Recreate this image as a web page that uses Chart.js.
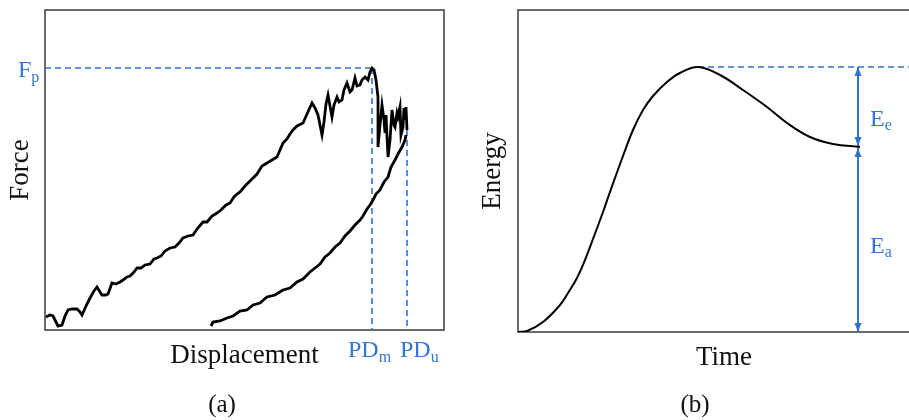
<!DOCTYPE html>
<html>
<head>
<meta charset="utf-8">
<script src="https://cdn.jsdelivr.net/npm/chart.js@4.4.1/dist/chart.umd.min.js"></script>
<style>
    html, body { margin: 0; padding: 0; background: #fff; }
    body { width: 909px; height: 420px; overflow: hidden; position: relative; }
    .panel { position: absolute; top: 0; }
    #panel-a { left: 0; }
    #panel-b { left: 460px; }
</style>
</head>
<body>
<div class="panel" id="panel-a"><canvas id="force-chart" width="460" height="420"></canvas></div>
<div class="panel" id="panel-b"><canvas id="energy-chart" width="500" height="420"></canvas></div>
<script>
// (a) loading branch: displacement / force
const loadDisp = [1, 5, 8, 11, 13, 17, 20, 23, 27, 32, 35, 37, 41, 45, 49, 52, 55, 57, 61, 63,
    67, 71, 75, 78, 82, 85, 89, 92, 96, 100, 105, 109, 112, 116, 120, 125, 130, 134, 138, 143,
    148, 152, 158, 162, 167, 172, 176, 181, 185, 189, 192, 195, 200, 204, 208, 212, 217, 222, 227, 232,
    235, 238, 242, 245, 248, 252, 258, 262, 267, 270, 273, 277, 279, 281, 283, 285, 287, 289, 292, 294,
    297, 299, 302, 305, 307, 310, 312, 315, 317, 320, 323, 325, 327, 329, 331, 333, 333, 335, 337, 339,
    340, 341, 343, 345, 347, 349, 350, 352, 353, 355, 356, 358, 359, 360, 361, 362];
const loadForce = [13, 15, 14, 8, 4, 5, 14, 20, 21, 21, 18, 15, 24, 32, 39, 43, 38, 35, 35, 36,
    47, 46, 48, 50, 53, 54, 58, 62, 62, 65, 66, 71, 72, 74, 79, 82, 83, 87, 92, 94,
    95, 101, 108, 108, 114, 117, 120, 125, 127, 133, 136, 138, 144, 148, 152, 156, 164, 167, 170, 173,
    180, 187, 191, 196, 200, 204, 207, 216, 227, 222, 215, 195, 208, 226, 235, 224, 213, 225, 233, 228,
    230, 240, 247, 238, 240, 252, 244, 245, 250, 253, 250, 258, 262, 260, 250, 233, 183, 205, 225, 210,
    197, 215, 173, 190, 220, 205, 203, 217, 213, 223, 195, 203, 222, 210, 223, 200];

// (a) unloading branch
const unloadDisp = [361, 360, 357, 353, 350, 346, 343, 339, 335, 331, 328, 325, 322, 318, 315, 310,
    305, 300, 295, 290, 285, 280, 275, 270, 265, 258, 252, 245, 238, 230, 222, 215, 208, 202,
    195, 188, 182, 175, 168, 166];
const unloadForce = [195, 190, 183, 176, 170, 163, 153, 148, 140, 136, 130, 125, 121, 114, 110, 105,
    99, 94, 87, 83, 77, 73, 66, 62, 58, 51, 48, 42, 40, 35, 33, 27, 25, 20,
    19, 14, 12, 9, 8, 4];

// (a) peak force and the two characteristic displacements
const peakForce = 262;
const dispAtPeak = 327;
const dispUltimate = 362;
const forceAtUltimate = 200;

// (b) energy history
const timeVals = [0, 9, 25, 42, 50, 59, 67, 75, 85, 92, 105, 115, 125, 135, 149, 162, 180,
    202, 225, 249, 269, 292, 315, 342];
const energyVals = [0, 1, 10, 27, 39, 54, 72, 93, 120, 140, 176, 202, 222, 236, 250, 259, 265,
    257, 242, 225, 209, 195, 188, 185];
const energyPeak = 265;
const energyResidual = 185;
const arrowTime = 340;

const blue = 'rgb(48, 114, 212)';
const textBlue = 'rgb(52, 118, 210)';
const ink = '#111';
const serif = "'Liberation Serif', 'DejaVu Serif', serif";

const zip = (xs, ys) => xs.map((x, i) => ({ x: x, y: ys[i] }));

// box around the plot area
const framePlugin = {
    id: 'frame',
    beforeDatasetsDraw(chart) {
        const { ctx, chartArea: a } = chart;
        ctx.save();
        ctx.strokeStyle = '#3a3a3a';
        ctx.lineWidth = 1.5;
        ctx.strokeRect(a.left, a.top, a.right - a.left, a.bottom - a.top);
        ctx.restore();
    }
};

// small filled heads on both ends of datasets flagged with arrowHeads
const arrowPlugin = {
    id: 'arrows',
    afterDatasetsDraw(chart) {
        const ctx = chart.ctx;
        chart.data.datasets.forEach((ds, i) => {
            if (!ds.arrowHeads) return;
            const pts = chart.getDatasetMeta(i).data;
            const n = pts.length;
            const head = (tip, from) => {
                const ang = Math.atan2(tip.y - from.y, tip.x - from.x);
                const len = 9, half = 3.5;
                ctx.beginPath();
                ctx.moveTo(tip.x, tip.y);
                ctx.lineTo(tip.x - len * Math.cos(ang) + half * Math.sin(ang),
                           tip.y - len * Math.sin(ang) - half * Math.cos(ang));
                ctx.lineTo(tip.x - len * Math.cos(ang) - half * Math.sin(ang),
                           tip.y - len * Math.sin(ang) + half * Math.cos(ang));
                ctx.closePath();
                ctx.fill();
            };
            ctx.save();
            ctx.fillStyle = ds.borderColor;
            head(pts[0], pts[1]);
            head(pts[n - 1], pts[n - 2]);
            ctx.restore();
        });
    }
};

// text with a subscript, anchored at its left end on the baseline
function drawSub(ctx, main, sub, x, y, size, subSize, drop) {
    ctx.save();
    ctx.fillStyle = textBlue;
    ctx.textBaseline = 'alphabetic';
    ctx.textAlign = 'left';
    ctx.font = size + 'px ' + serif;
    ctx.fillText(main, x, y);
    const w = ctx.measureText(main).width;
    ctx.font = subSize + 'px ' + serif;
    ctx.fillText(sub, x + w, y + drop);
    ctx.restore();
}

const forceLabels = {
    id: 'forceLabels',
    afterDraw(chart) {
        const { ctx, scales: { x, y }, chartArea } = chart;
        const yp = y.getPixelForValue(peakForce);
        drawSub(ctx, 'F', 'p', chartArea.left - 27, yp + 9, 24, 16, 5);
        const base = chartArea.bottom + 27;
        drawSub(ctx, 'PD', 'm', x.getPixelForValue(dispAtPeak) - 24, base, 24, 16, 5);
        drawSub(ctx, 'PD', 'u', x.getPixelForValue(dispUltimate) - 7, base, 24, 16, 5);
    }
};

const energyLabels = {
    id: 'energyLabels',
    afterDraw(chart) {
        const { ctx, scales: { x, y } } = chart;
        const xa = x.getPixelForValue(arrowTime) + 12;
        const yTop = y.getPixelForValue(energyPeak);
        const yMid = y.getPixelForValue(energyResidual);
        const yBot = y.getPixelForValue(0);
        drawSub(ctx, 'E', 'e', xa, (yTop + yMid) / 2 + 19, 24, 16, 4);
        drawSub(ctx, 'E', 'a', xa, (yMid + yBot) / 2 + 13, 24, 16, 4);
    }
};

function hiddenAxis(min, max, title, pad) {
    return {
        type: 'linear',
        min: min,
        max: max,
        grid: { display: false, drawTicks: false },
        border: { display: false },
        ticks: { display: false },
        title: { display: true, text: title, color: ink, font: { family: serif, size: 27 }, padding: pad }
    };
}

function caption(text, top) {
    return {
        display: true,
        text: text,
        position: 'bottom',
        color: ink,
        font: { family: serif, size: 25, weight: 'normal' },
        padding: { top: top, bottom: 0 }
    };
}

Chart.defaults.animation = false;

new Chart(document.getElementById('force-chart'), {
    type: 'line',
    data: {
        datasets: [
            {
                data: zip(loadDisp, loadForce),
                borderColor: '#000',
                borderWidth: 2.8,
                pointRadius: 0,
                tension: 0,
                order: 0
            },
            {
                data: zip(unloadDisp, unloadForce),
                borderColor: '#000',
                borderWidth: 2.8,
                pointRadius: 0,
                tension: 0,
                order: 0
            },
            {
                data: [{ x: 0, y: peakForce }, { x: dispAtPeak, y: peakForce }],
                borderColor: blue,
                borderWidth: 1.6,
                borderDash: [6, 4],
                pointRadius: 0,
                order: 1
            },
            {
                data: [{ x: dispAtPeak, y: peakForce }, { x: dispAtPeak, y: 0 }],
                borderColor: blue,
                borderWidth: 1.6,
                borderDash: [6, 4],
                pointRadius: 0,
                order: 1
            },
            {
                data: [{ x: dispUltimate, y: forceAtUltimate }, { x: dispUltimate, y: 0 }],
                borderColor: blue,
                borderWidth: 1.6,
                borderDash: [6, 4],
                pointRadius: 0,
                order: 1
            }
        ]
    },
    options: {
        responsive: false,
        parsing: false,
        layout: { padding: { left: 0, top: 10, right: 16, bottom: 0 } },
        plugins: {
            legend: { display: false },
            tooltip: { enabled: false },
            title: caption('(a)', 17.6)
        },
        scales: {
            x: hiddenAxis(0, 399, 'Displacement', { top: 10, bottom: 0 }),
            y: hiddenAxis(0, 320, 'Force', { top: 5, bottom: 7.6 })
        }
    },
    plugins: [framePlugin, forceLabels]
});

new Chart(document.getElementById('energy-chart'), {
    type: 'line',
    data: {
        datasets: [
            {
                data: zip(timeVals, energyVals),
                borderColor: '#000',
                borderWidth: 2,
                pointRadius: 0,
                tension: 0.4,
                order: 0
            },
            {
                data: [{ x: 180, y: energyPeak }, { x: 412, y: energyPeak }],
                borderColor: blue,
                borderWidth: 1.6,
                borderDash: [6, 4],
                pointRadius: 0,
                order: 1
            },
            {
                data: [{ x: arrowTime, y: energyPeak }, { x: arrowTime, y: energyResidual + 1 }],
                borderColor: blue,
                borderWidth: 2,
                pointRadius: 0,
                arrowHeads: true,
                order: 1
            },
            {
                data: [{ x: arrowTime, y: energyResidual - 1 }, { x: arrowTime, y: 0 }],
                borderColor: blue,
                borderWidth: 2,
                pointRadius: 0,
                arrowHeads: true,
                order: 1
            }
        ]
    },
    options: {
        responsive: false,
        parsing: false,
        layout: { padding: { left: 0, top: 10, right: 30, bottom: 0 } },
        plugins: {
            legend: { display: false },
            tooltip: { enabled: false },
            title: caption('(b)', 15.6)
        },
        scales: {
            x: hiddenAxis(0, 412, 'Time', { top: 10, bottom: 0 }),
            y: hiddenAxis(0, 322, 'Energy', { top: 17, bottom: 8.6 })
        }
    },
    plugins: [framePlugin, arrowPlugin, energyLabels]
});
</script>
</body>
</html>
